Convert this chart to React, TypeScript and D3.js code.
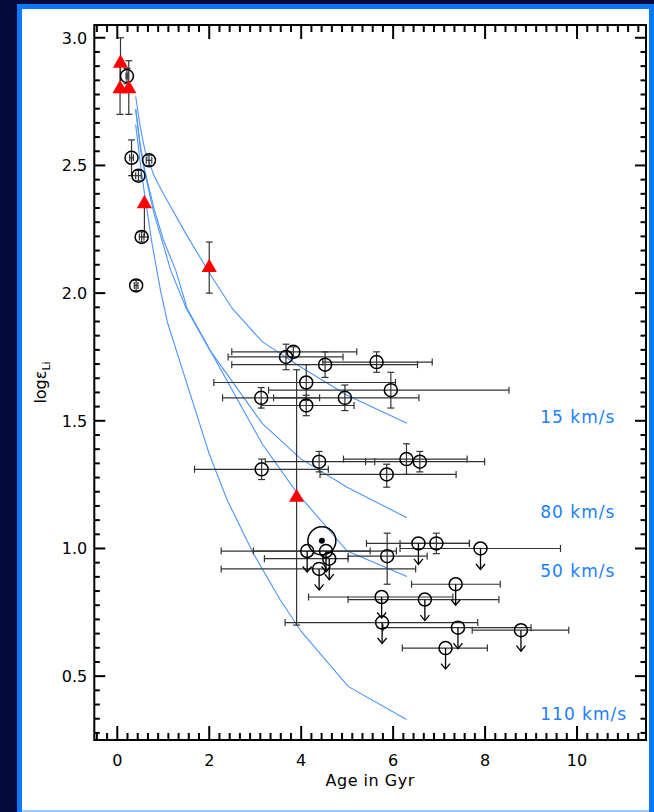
import React from "react";
import * as d3 from "d3";

// ---- Lithium depletion models (age in Gyr, log eps Li) ----
const curve15 = [[0.4, 2.77], [0.5, 2.65], [0.6, 2.56], [0.8, 2.46], [1.0, 2.39], [1.5, 2.23], [2.0, 2.08], [2.5, 1.94], [3.15, 1.81], [4.0, 1.71], [5.0, 1.6], [6.3, 1.49]];
const curve80 = [[0.4, 2.72], [0.5, 2.57], [0.6, 2.47], [0.8, 2.31], [1.0, 2.19], [1.16, 2.09], [1.5, 1.94], [2.02, 1.775], [3.15, 1.49], [4.0, 1.35], [5.0, 1.24], [6.3, 1.12]];
const curve50 = [[0.4, 2.72], [0.5, 2.58], [0.6, 2.48], [0.8, 2.33], [1.0, 2.21], [1.27, 2.09], [1.52, 1.94], [2.1, 1.75], [3.15, 1.41], [3.9, 1.22], [5.0, 0.99], [6.3, 0.89]];
const curve110 = [[0.4, 2.66], [0.5, 2.51], [0.6, 2.38], [0.75, 2.2], [0.94, 2.01], [1.1, 1.88], [1.63, 1.58], [2.0, 1.37], [2.39, 1.19], [2.96, 0.98], [3.54, 0.8], [4.0, 0.675], [5.02, 0.46], [6.29, 0.33]];
const curves = [curve15, curve80, curve50, curve110];
const curveLabels = ["15 km/s", "80 km/s", "50 km/s", "110 km/s"];

// ---- Cluster / young stars (open circles, small errors) ----
const youngStars = [
  { age: 0.21, li: 2.85, dx: 0.02, dy: 0.03 },
  { age: 0.31, li: 2.53, dx: 0.04, dy: 0.07 },
  { age: 0.69, li: 2.52, dx: 0.06, dy: 0.02 },
  { age: 0.46, li: 2.46, dx: 0.06, dy: 0.02 },
  { age: 0.53, li: 2.22, dx: 0.05, dy: 0.02 },
  { age: 0.41, li: 2.03, dx: 0.04, dy: 0.02 },
];

// ---- Field stars with measured Li ----
const detections = [
  { age: 3.83, li: 1.77, ageLo: 2.49, ageHi: 5.21, liLo: 1.75, liHi: 1.79 },
  { age: 3.67, li: 1.75, ageLo: 2.41, ageHi: 4.91, liLo: 1.7, liHi: 1.8 },
  { age: 4.52, li: 1.72, ageLo: 2.49, ageHi: 6.53, liLo: 1.67, liHi: 1.77 },
  { age: 5.64, li: 1.73, ageLo: 4.47, ageHi: 6.85, liLo: 1.69, liHi: 1.77 },
  { age: 4.11, li: 1.65, ageLo: 2.1, ageHi: 6.05, liLo: 1.58, liHi: 1.72 },
  { age: 5.95, li: 1.62, ageLo: 3.29, ageHi: 8.52, liLo: 1.55, liHi: 1.69 },
  { age: 3.13, li: 1.59, ageLo: 2.29, ageHi: 4.4, liLo: 1.55, liHi: 1.63 },
  { age: 4.11, li: 1.56, ageLo: 3.13, ageHi: 5.15, liLo: 1.52, liHi: 1.6 },
  { age: 4.95, li: 1.59, ageLo: 3.4, ageHi: 6.56, liLo: 1.54, liHi: 1.64 },
  { age: 3.14, li: 1.31, ageLo: 1.68, ageHi: 4.59, liLo: 1.27, liHi: 1.35 },
  { age: 4.39, li: 1.34, ageLo: 3.22, ageHi: 5.6, liLo: 1.3, liHi: 1.38 },
  { age: 6.29, li: 1.35, ageLo: 4.92, ageHi: 7.61, liLo: 1.29, liHi: 1.41 },
  { age: 6.58, li: 1.34, ageLo: 5.4, ageHi: 7.99, liLo: 1.3, liHi: 1.38 },
  { age: 5.86, li: 1.29, ageLo: 4.41, ageHi: 7.37, liLo: 1.24, liHi: 1.33 },
  { age: 5.87, li: 0.97, ageLo: 5.02, ageHi: 6.74, liLo: 0.86, liHi: 1.06 },
  { age: 6.94, li: 1.02, ageLo: 6.15, ageHi: 7.66, liLo: 0.98, liHi: 1.06 },
];

// ---- Field stars with Li upper limits ----
const upperLimits = [
  { age: 4.13, li: 0.99, ageLo: 2.26, ageHi: 6.07 },
  { age: 4.54, li: 0.99, ageLo: 2.96, ageHi: 5.5 },
  { age: 4.61, li: 0.96, ageLo: 3.2, ageHi: 5.02 },
  { age: 4.39, li: 0.92, ageLo: 2.26, ageHi: 6.49 },
  { age: 6.55, li: 1.02, ageLo: 5.42, ageHi: 7.66 },
  { age: 7.9, li: 1.0, ageLo: 6.15, ageHi: 9.64 },
  { age: 7.36, li: 0.86, ageLo: 6.4, ageHi: 8.33 },
  { age: 5.75, li: 0.81, ageLo: 4.16, ageHi: 7.3 },
  { age: 6.69, li: 0.8, ageLo: 5.02, ageHi: 8.3 },
  { age: 5.76, li: 0.71, ageLo: 3.65, ageHi: 7.84 },
  { age: 7.41, li: 0.69, ageLo: 5.78, ageHi: 9.0 },
  { age: 8.78, li: 0.68, ageLo: 7.72, ageHi: 9.82 },
  { age: 7.14, li: 0.61, ageLo: 6.2, ageHi: 8.05 },
];

// ---- Cluster means (red triangles) ----
const clusters = [
  { age: 0.07, li: 2.9, liLo: 2.8, liHi: 3.0 },
  { age: 0.06, li: 2.8, liLo: 2.7, liHi: 2.9 },
  { age: 0.25, li: 2.8, liLo: 2.7, liHi: 2.91 },
  { age: 0.59, li: 2.35, liLo: 2.22, liHi: 2.35 },
  { age: 2.0, li: 2.1, liLo: 2.0, liHi: 2.2 },
  { age: 3.9, li: 1.2, liLo: 0.7, liHi: 1.7 },
];

const sun = { age: 4.45, li: 1.03 };

const xMajor = [0, 2, 4, 6, 8, 10];
const yMajor = [0.5, 1.0, 1.5, 2.0, 2.5, 3.0];

const W = 654;
const H = 812;
const X0 = 94.3, X1 = 646, Y0 = 25, Y1 = 740;
const x = d3.scaleLinear().domain([-0.5, 11.5]).range([X0, X1]);
const y = d3.scaleLinear().domain([0.25, 3.05]).range([Y1, Y0]);

const xMinor = d3.range(-2, 52).map((k) => (k * 2) / 9).filter((v) => v > -0.5 && v < 11.5);
const yMinor = d3.range(5, 55).map((k) => (k * 0.5) / 9).filter((v) => v > 0.25 && v < 3.05);
const isMajor = (v: number, step: number) => Math.abs(v / step - Math.round(v / step)) < 1e-6;

const FONT = "DejaVu Sans";
const ERR = "#333";
const CAP = 3.5;
const R = 6.5;

const line = d3.line<number[]>().x((d) => x(d[0])).y((d) => y(d[1]));
const tri = d3.symbol().type(d3.symbolTriangle).size(100)()!;

function HBar({ yv, lo, hi }: { yv: number; lo: number; hi: number }) {
  const yy = y(yv);
  return (
    <g stroke={ERR} strokeWidth={1.2}>
      <line x1={x(lo)} x2={x(hi)} y1={yy} y2={yy} />
      <line x1={x(lo)} x2={x(lo)} y1={yy - CAP} y2={yy + CAP} />
      <line x1={x(hi)} x2={x(hi)} y1={yy - CAP} y2={yy + CAP} />
    </g>
  );
}

function VBar({ xv, lo, hi }: { xv: number; lo: number; hi: number }) {
  const xx = x(xv);
  return (
    <g stroke={ERR} strokeWidth={1.2}>
      <line x1={xx} x2={xx} y1={y(lo)} y2={y(hi)} />
      <line x1={xx - CAP} x2={xx + CAP} y1={y(lo)} y2={y(lo)} />
      <line x1={xx - CAP} x2={xx + CAP} y1={y(hi)} y2={y(hi)} />
    </g>
  );
}

export default function App() {
  const yMid = (Y0 + Y1) / 2;
  return (
    <svg width={W} height={H} style={{ position: "absolute", left: 0, top: 0, display: "block" }} fontFamily={FONT}>
      {/* slide frame */}
      <rect x={0} y={0} width={W} height={H} fill="#040b3c" />
      <rect x={17} y={4} width={W - 17} height={H - 4} fill="#0a78ff" />
      <rect x={22} y={9} width={627} height={801} fill="#ffffff" />
      <rect x={22} y={810} width={627} height={2} fill="#9ccaff" />

      {/* model curves */}
      <g fill="none" stroke="#4b95ff" strokeWidth={1.1}>
        {curves.map((c, i) => (
          <path key={i} d={line(c)!} />
        ))}
      </g>
      <g fill="#1a80ff" fontSize={17} letterSpacing={1}>
        {curves.map((c, i) => (
          <text key={i} x={x(9.2)} y={y(c[c.length - 1][1])}>
            {curveLabels[i]}
          </text>
        ))}
      </g>

      {/* error bars */}
      {youngStars.map((d, i) => (
        <g key={"ye" + i}>
          <HBar yv={d.li} lo={d.age - d.dx} hi={d.age + d.dx} />
          <VBar xv={d.age} lo={d.li - d.dy} hi={d.li + d.dy} />
        </g>
      ))}
      {detections.map((d, i) => (
        <g key={"de" + i}>
          <HBar yv={d.li} lo={d.ageLo} hi={d.ageHi} />
          <VBar xv={d.age} lo={d.liLo} hi={d.liHi} />
        </g>
      ))}
      {upperLimits.map((d, i) => (
        <HBar key={"ue" + i} yv={d.li} lo={d.ageLo} hi={d.ageHi} />
      ))}
      {clusters.map((d, i) => (
        <VBar key={"ce" + i} xv={d.age} lo={d.liLo} hi={d.liHi} />
      ))}

      {/* stars */}
      <g fill="none" stroke="#000" strokeWidth={1.5}>
        {youngStars.map((d, i) => (
          <circle key={"y" + i} cx={x(d.age)} cy={y(d.li)} r={R} />
        ))}
        {detections.map((d, i) => (
          <circle key={"d" + i} cx={x(d.age)} cy={y(d.li)} r={R} />
        ))}
        {upperLimits.map((d, i) => {
          const cx = x(d.age);
          const cy = y(d.li);
          return (
            <g key={"u" + i}>
              <circle cx={cx} cy={cy} r={R} />
              <line x1={cx} x2={cx} y1={cy} y2={cy + 21} strokeWidth={1.3} />
              <polyline points={`${cx - 4.5},${cy + 15.5} ${cx},${cy + 21} ${cx + 4.5},${cy + 15.5}`} strokeWidth={1.3} />
            </g>
          );
        })}
        <circle cx={x(sun.age)} cy={y(sun.li)} r={14} />
      </g>
      <circle cx={x(sun.age)} cy={y(sun.li)} r={3} fill="#000" />

      {/* clusters */}
      {clusters.map((d, i) => (
        <path key={"c" + i} d={tri} transform={`translate(${x(d.age)},${y(d.li)})`} fill="#ff0000" />
      ))}

      {/* axes box and ticks */}
      <g stroke="#000" strokeWidth={2} fill="none">
        <rect x={X0} y={Y0} width={X1 - X0} height={Y1 - Y0} />
        {xMinor.map((v, i) => {
          const L = isMajor(v, 2) ? 14 : 7;
          return (
            <g key={"xt" + i}>
              <line x1={x(v)} x2={x(v)} y1={Y1} y2={Y1 - L} />
              <line x1={x(v)} x2={x(v)} y1={Y0} y2={Y0 + L} />
            </g>
          );
        })}
        {yMinor.map((v, i) => {
          const L = isMajor(v, 0.5) ? 11 : 5.5;
          return (
            <g key={"yt" + i}>
              <line x1={X0} x2={X0 + L} y1={y(v)} y2={y(v)} />
              <line x1={X1} x2={X1 - L} y1={y(v)} y2={y(v)} />
            </g>
          );
        })}
      </g>

      <g fontSize={16} fill="#000">
        {xMajor.map((v) => (
          <text key={"xl" + v} x={x(v)} y={Y1 + 26} textAnchor="middle">
            {v}
          </text>
        ))}
        {yMajor.map((v) => (
          <text key={"yl" + v} x={X0 - 7} y={y(v)} dy="0.36em" textAnchor="end">
            {v.toFixed(1)}
          </text>
        ))}
        <text x={(X0 + X1) / 2} y={786} textAnchor="middle" letterSpacing={0.5}>
          Age in Gyr
        </text>
        <text transform={`translate(46,${yMid}) rotate(-90)`} textAnchor="middle">
          log
          <tspan>ε</tspan>
          <tspan fontSize={11} dy={4}>Li</tspan>
        </text>
      </g>
    </svg>
  );
}
